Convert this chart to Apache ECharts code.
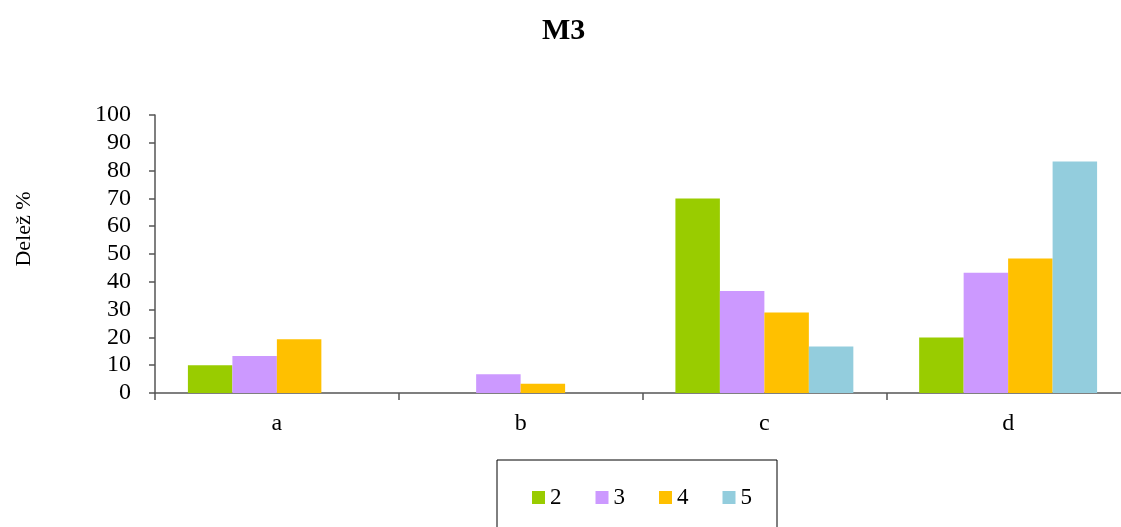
<!DOCTYPE html>
<html>
<head>
<meta charset="utf-8">
<title>M3</title>
<script src="https://cdn.jsdelivr.net/npm/echarts@6/dist/echarts.min.js"></script>
<style>
  html, body { margin: 0; padding: 0; background: #ffffff; overflow: hidden; }
  #chart { width: 1130px; height: 527px; }
</style>
</head>
<body>
<div id="chart"></div>
<script>
// Categories along the x axis
const categories = ['a', 'b', 'c', 'd'];

// Share (%) per grade, one array per series
const grade2 = [10, 0, 70, 20];
const grade3 = [13.3, 6.7, 36.7, 43.3];
const grade4 = [19.3, 3.3, 29, 48.4];
const grade5 = [0, 0, 16.7, 83.3];

const seriesNames = ['2', '3', '4', '5'];
const seriesValues = [grade2, grade3, grade4, grade5];
const seriesColors = ['#99CC00', '#CC99FF', '#FFC000', '#93CDDD'];

// Y axis ticks: 0..100 step 10
const yMin = 0, yMax = 100, yStep = 10;

const FONT = '"Liberation Serif", "Times New Roman", serif';

const chart = echarts.init(document.getElementById('chart'), null, { renderer: 'canvas' });

chart.setOption({
  animation: false,
  backgroundColor: '#ffffff',
  textStyle: { fontFamily: FONT, color: '#000' },
  title: {
    text: 'M3',
    left: 537,
    top: 11,
    textStyle: { fontFamily: FONT, fontSize: 30, fontWeight: 'bold', color: '#000' }
  },
  graphic: [{
    type: 'text',
    x: 24,
    y: 229,
    rotation: Math.PI / 2,
    style: {
      text: 'Delež %',
      font: '22px ' + FONT,
      fill: '#000',
      align: 'center',
      verticalAlign: 'middle'
    }
  }],
  legend: {
    data: seriesNames,
    left: 497,
    top: 460,
    orient: 'horizontal',
    padding: [26, 25, 40, 35],
    borderColor: '#000',
    borderWidth: 1,
    itemWidth: 13,
    itemHeight: 13,
    itemGap: 34,
    icon: 'rect',
    textStyle: { fontFamily: FONT, fontSize: 23, color: '#000' }
  },
  grid: {
    left: 155,
    right: 0,
    top: 115,
    bottom: 134,
    containLabel: false
  },
  xAxis: {
    type: 'category',
    data: categories,
    boundaryGap: true,
    axisLine: { lineStyle: { color: '#555', width: 1.5 } },
    axisTick: { show: true, length: 7, lineStyle: { color: '#555', width: 1.5 } },
    axisLabel: { fontFamily: FONT, fontSize: 24, color: '#000', margin: 19 },
    splitLine: { show: false }
  },
  yAxis: {
    type: 'value',
    min: yMin,
    max: yMax,
    interval: yStep,
    axisLine: { show: true, lineStyle: { color: '#555', width: 1.5 } },
    axisTick: { show: true, length: 6, inside: false, lineStyle: { color: '#555', width: 1.5 } },
    axisLabel: { fontFamily: FONT, fontSize: 24, color: '#000', margin: 24 },
    splitLine: { show: false }
  },
  series: seriesNames.map((name, i) => ({
    name: name,
    type: 'bar',
    data: seriesValues[i],
    barGap: '0%',
    barCategoryGap: '27%',
    itemStyle: { color: seriesColors[i] }
  }))
});
</script>
</body>
</html>
